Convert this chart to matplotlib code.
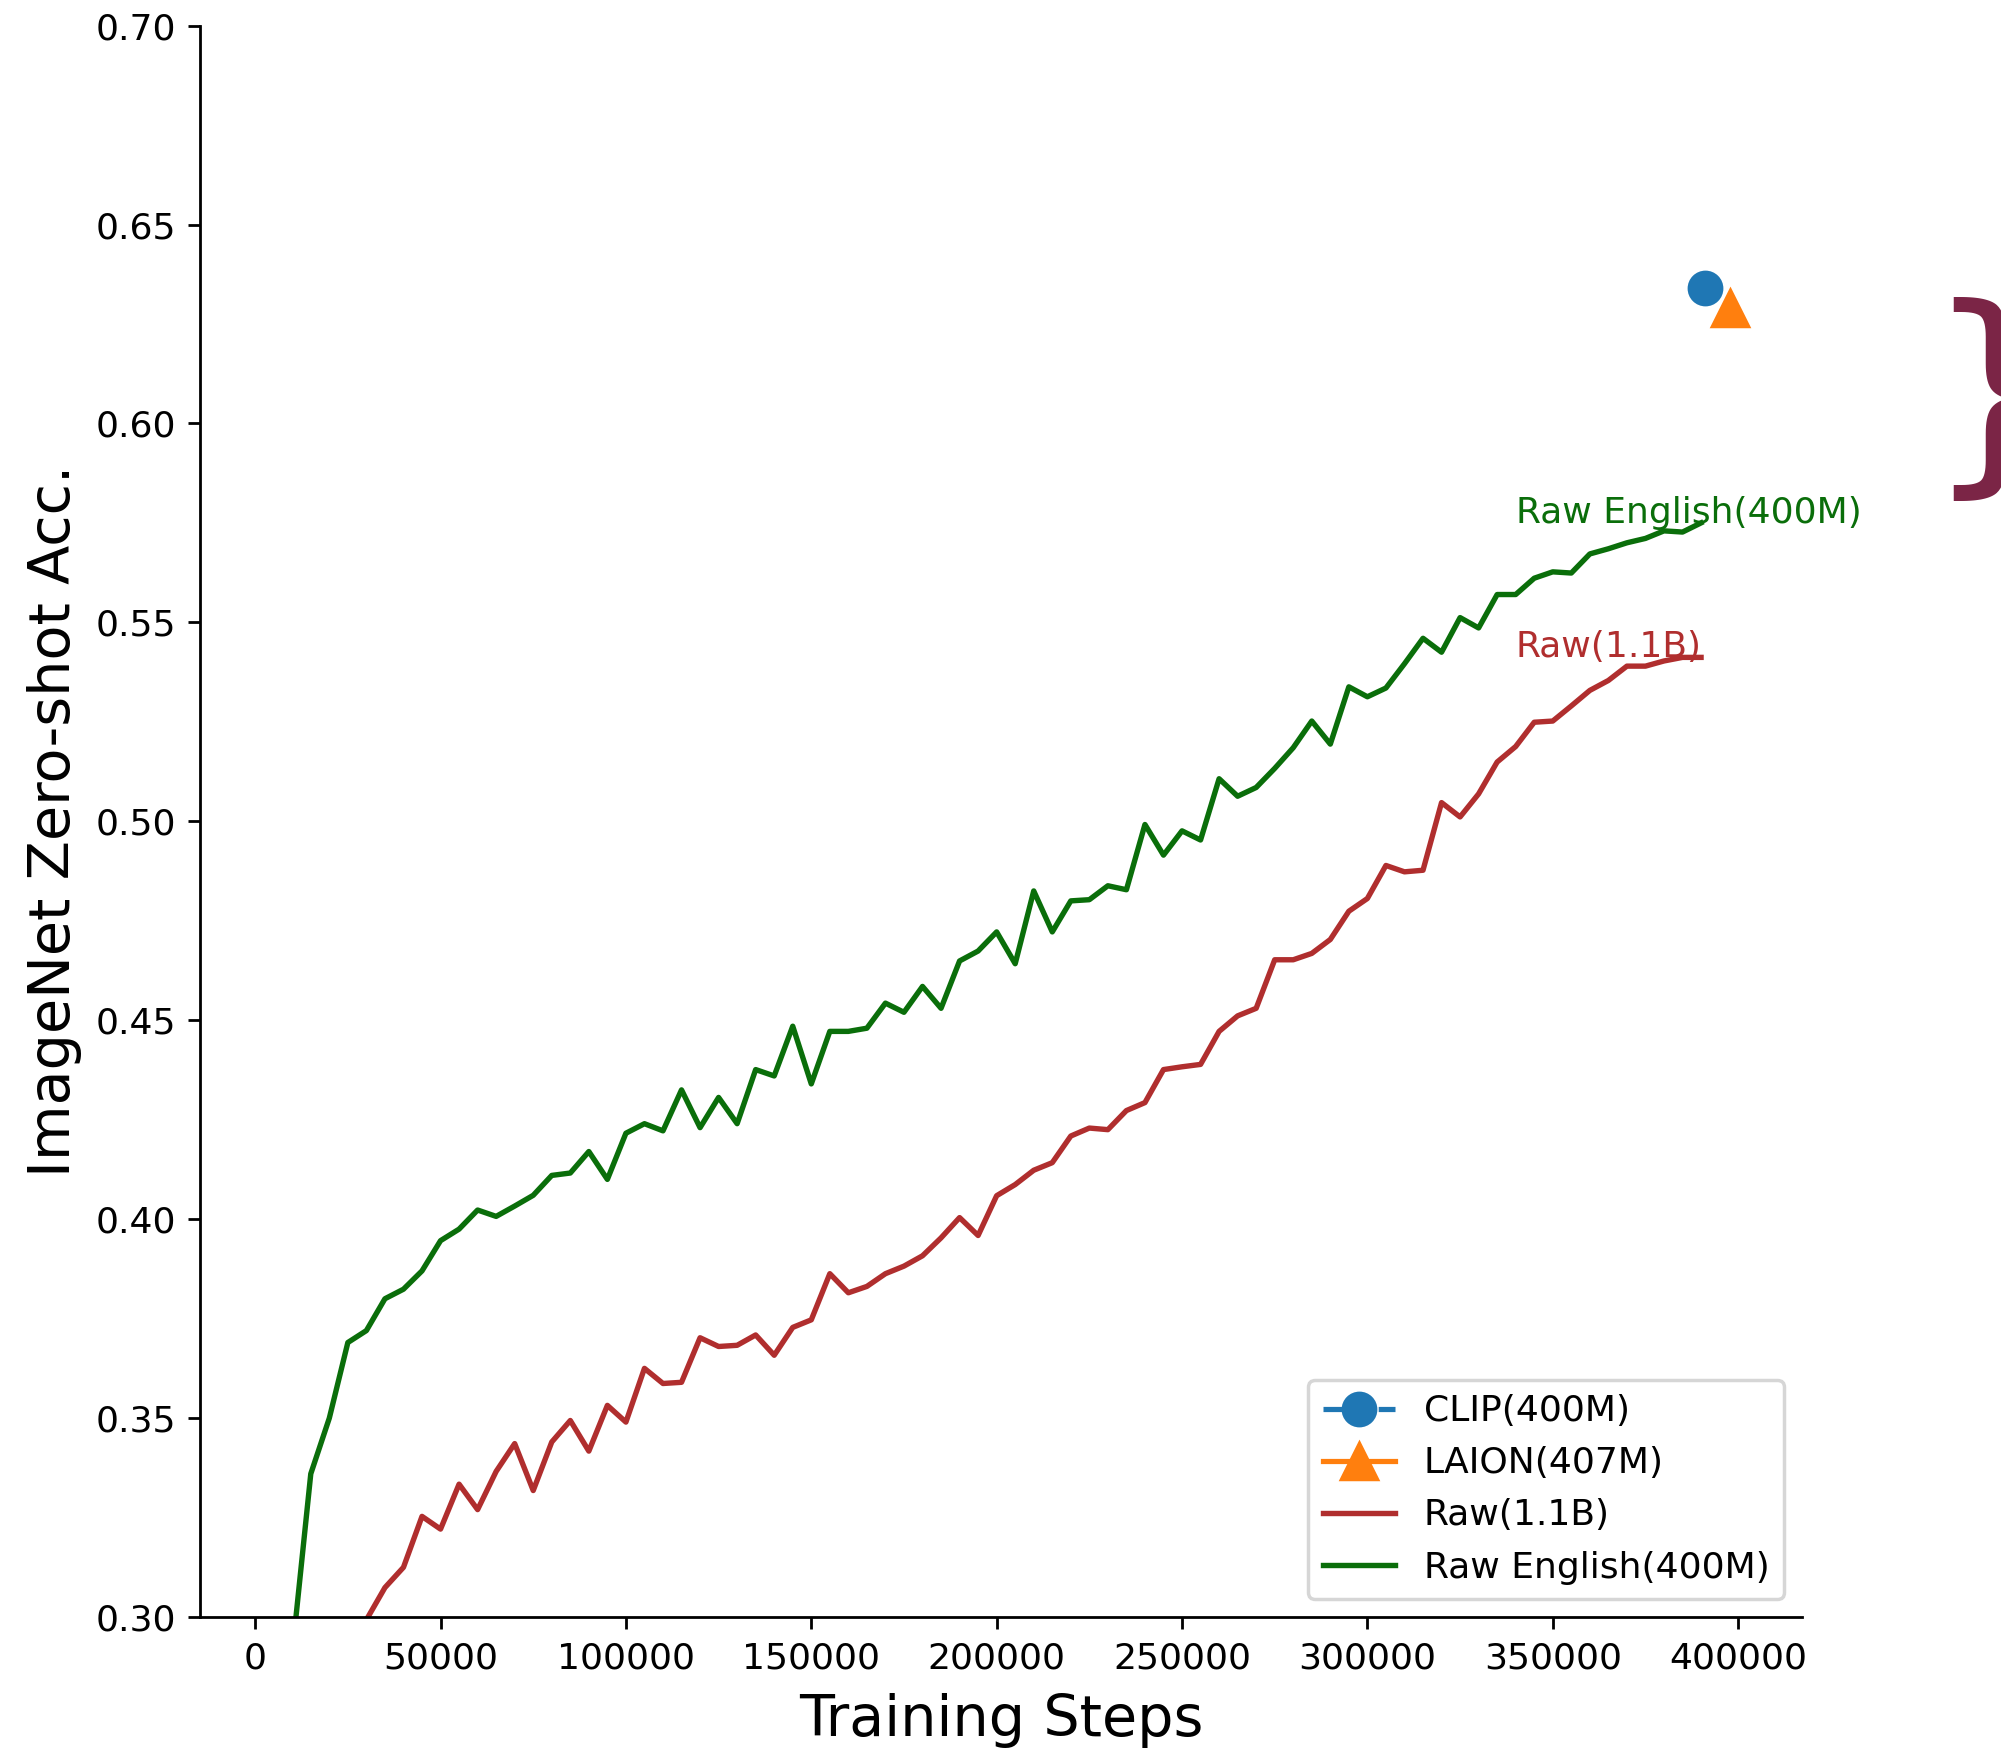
import matplotlib
matplotlib.use("Agg")
import matplotlib.pyplot as plt
import numpy as np

# ---------------- data ----------------
steps_english = list(range(10000, 390001, 5000))
acc_english = [0.291, 0.336, 0.350, 0.369, 0.372, 0.380, 0.3824, 0.387, 0.3946, 0.3975,
               0.4023, 0.4007, 0.4033, 0.406, 0.411, 0.4116, 0.417, 0.410, 0.4216, 0.424,
               0.4222, 0.4325, 0.423, 0.4306, 0.424, 0.4376, 0.436, 0.4485, 0.434, 0.4472,
               0.4472, 0.448, 0.4543, 0.452, 0.4585, 0.453, 0.4649, 0.4674, 0.4722, 0.4642,
               0.4825, 0.4722, 0.480, 0.4803, 0.4838, 0.4828, 0.4992, 0.4915, 0.4976, 0.4953,
               0.5107, 0.5063, 0.5085, 0.5133, 0.5185, 0.5252, 0.5194, 0.5338, 0.5313, 0.5335,
               0.5396, 0.546, 0.5425, 0.5512, 0.5486, 0.557, 0.557, 0.5611, 0.5627, 0.5624,
               0.5672, 0.5685, 0.570, 0.5711, 0.573, 0.5727, 0.575]

steps_raw = list(range(30000, 390001, 5000))
acc_raw = [0.2993, 0.3074, 0.3125, 0.3253, 0.3221, 0.3334, 0.327, 0.3366, 0.3436, 0.3318,
           0.344, 0.3494, 0.3417, 0.3532, 0.349, 0.3625, 0.3587, 0.359, 0.3702, 0.368,
           0.3683, 0.3709, 0.3658, 0.3728, 0.3747, 0.3863, 0.3815, 0.3831, 0.3863, 0.3882,
           0.3908, 0.3953, 0.4004, 0.3959, 0.4059, 0.4087, 0.4123, 0.4142, 0.4209, 0.4229,
           0.4225, 0.4273, 0.4293, 0.4376, 0.4383, 0.4389, 0.4472, 0.4511, 0.453, 0.4652,
           0.4652, 0.4668, 0.4703, 0.4774, 0.4806, 0.4889, 0.4873, 0.4877, 0.5047, 0.5011,
           0.5069, 0.5149, 0.5188, 0.5249, 0.5252, 0.529, 0.5329, 0.5354, 0.539, 0.539,
           0.5403, 0.5412, 0.5412]

clip_step = [391000]
clip_acc = [0.634]
laion_step = [397800]
laion_acc = [0.629]

series_labels = ["CLIP(400M)", "LAION(407M)", "Raw(1.1B)", "Raw English(400M)"]
y_ticks = [0.30, 0.35, 0.40, 0.45, 0.50, 0.55, 0.60, 0.65, 0.70]
x_ticks = [0, 50000, 100000, 150000, 200000, 250000, 300000, 350000, 400000]

# ---------------- figure ----------------
fig = plt.figure(figsize=(8.004, 7.004), dpi=250)
ax = fig.add_axes([0.1001, 0.0765, 0.8004, 0.9089])

red = "#b02e2e"
green = "#0a6e0a"
fs = 10.4

ax.plot(clip_step, clip_acc, linestyle="--", marker="o", markersize=9.3,
        color="#1f77b4", label=series_labels[0])
ax.plot(laion_step, laion_acc, linestyle="-", marker="^", markersize=10.3,
        color="#ff7f0e", label=series_labels[1])
ax.plot(steps_raw, acc_raw, color=red, lw=1.55, label=series_labels[2])
ax.plot(steps_english, acc_english, color=green, lw=1.55, label=series_labels[3])

ax.text(steps_english[-1] - 50000, acc_english[-1], series_labels[3],
        color=green, fontsize=fs)
ax.text(steps_raw[-1] - 50000, acc_raw[-1], series_labels[2],
        color=red, fontsize=fs)

ax.set_xlim(-14800, 417200)
ax.set_ylim(0.30, 0.70)
ax.set_yticks(y_ticks)
ax.set_xticks(x_ticks)
ax.set_yticklabels([f"{v:.2f}" for v in y_ticks])
ax.set_xticklabels([str(v) for v in x_ticks])
ax.tick_params(labelsize=fs)
ax.spines["top"].set_visible(False)
ax.spines["right"].set_visible(False)

ax.set_xlabel("Training Steps", fontsize=16.5, labelpad=5)
ax.set_ylabel("ImageNet Zero-shot Acc.", fontsize=16.5)

ax.legend(loc="lower right", fontsize=fs)

fig.text(0.962, 0.769, "}", fontsize=64, color="#7b2546", ha="left", va="center")

fig.savefig("out.png", dpi=250)
